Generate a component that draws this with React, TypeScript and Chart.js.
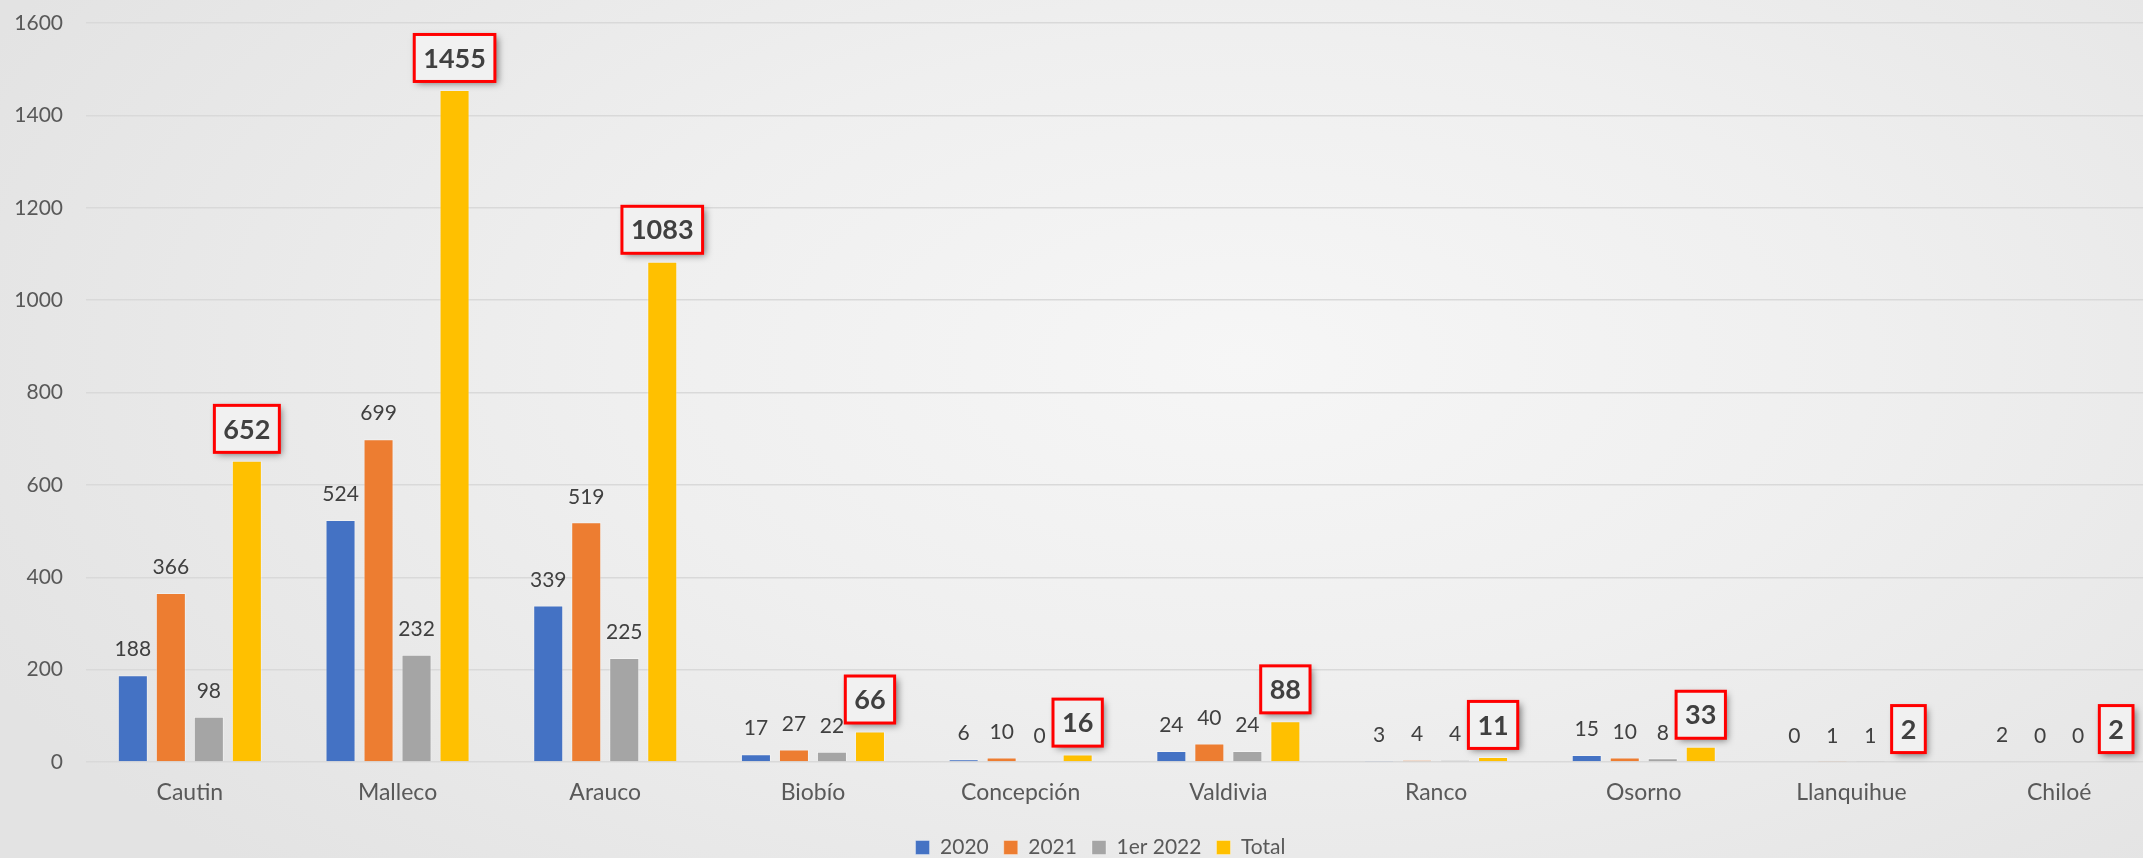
import React, { useEffect, useRef } from "react";
import { Chart, registerables } from "chart.js";

Chart.register(...registerables);

const categories = ["Cautin", "Malleco", "Arauco", "Biobío", "Concepción", "Valdivia", "Ranco", "Osorno", "Llanquihue", "Chiloé"];
const values2020 = [188, 524, 339, 17, 6, 24, 3, 15, 0, 2];
const values2021 = [366, 699, 519, 27, 10, 40, 4, 10, 1, 0];
const values2022 = [98, 232, 225, 22, 0, 24, 4, 8, 1, 0];
const valuesTotal = [652, 1455, 1083, 66, 16, 88, 11, 33, 2, 2];
const seriesNames = ["2020", "2021", "1er 2022", "Total"];
const seriesColors = ["#4472C4", "#ED7D31", "#A5A5A5", "#FFC000"];
const yMin = 0;
const yMax = 1600;
const yStep = 200;

const FONT = "Lato, 'Noto Sans', sans-serif";

const labelPlugin = {
  id: "valueLabels",
  afterDatasetsDraw(chart: any) {
    const ctx = chart.ctx;
    chart.data.datasets.forEach((ds: any, di: number) => {
      const meta = chart.getDatasetMeta(di);
      meta.data.forEach((bar: any, i: number) => {
        const v = ds.data[i];
        const x = bar.x;
        const y = bar.y;
        ctx.save();
        if (di === 3) {
          ctx.font = `bold 27px ${FONT}`;
          const tw = ctx.measureText(String(v)).width;
          const lw = 3;
          const w = tw + 15 + lw;
          const h = 47;
          const bx = x - w / 2;
          const by = y - 7 - lw / 2 - h;
          ctx.shadowColor = "rgba(0,0,0,0.5)";
          ctx.shadowBlur = 7;
          ctx.shadowOffsetX = 3;
          ctx.shadowOffsetY = 3;
          ctx.fillStyle = "#f1f1f1";
          ctx.fillRect(bx, by, w, h);
          ctx.shadowColor = "transparent";
          ctx.shadowBlur = 0;
          ctx.shadowOffsetX = 0;
          ctx.shadowOffsetY = 0;
          ctx.lineWidth = lw;
          ctx.strokeStyle = "#FF0000";
          ctx.strokeRect(bx, by, w, h);
          ctx.fillStyle = "#404040";
          ctx.textAlign = "center";
          ctx.textBaseline = "middle";
          ctx.fillText(String(v), x, by + h / 2 + 1);
        } else {
          ctx.font = `21px ${FONT}`;
          ctx.fillStyle = "#404040";
          ctx.textAlign = "center";
          ctx.textBaseline = "middle";
          ctx.fillText(String(v), x, y - 25.5);
        }
        ctx.restore();
      });
    });
  },
};

const legendShiftPlugin = {
  id: "legendShift",
  afterLayout(chart: any) {
    const l = chart.legend;
    if (l) {
      l.left += 11;
      l.right += 11;
    }
  },
};

export default function App() {
  const ref = useRef<HTMLCanvasElement | null>(null);

  useEffect(() => {
    if (!ref.current) return;
    const allSeries = [values2020, values2021, values2022, valuesTotal];
    const chart = new Chart(ref.current, {
      type: "bar",
      data: {
        labels: categories,
        datasets: allSeries.map((d, i) => ({
          label: seriesNames[i],
          data: d,
          backgroundColor: seriesColors[i],
          borderColor: "rgba(255,255,255,0.35)",
          borderWidth: 1,
          categoryPercentage: 0.732,
          barPercentage: 0.79,
        })),
      },
      options: {
        responsive: false,
        animation: false,
        devicePixelRatio: 1,
        layout: { padding: { top: 23, right: 37, left: 16, bottom: 0 } },
        plugins: {
          tooltip: { enabled: false },
          legend: {
            position: "bottom",
            labels: {
              boxWidth: 14,
              boxHeight: 14,
              color: "#595959",
              font: { size: 21, family: FONT },
              padding: 15,
            },
          },
        },
        scales: {
          x: {
            grid: { display: false, drawTicks: false },
            border: { display: false },
            ticks: { color: "#595959", font: { size: 23, family: FONT }, padding: 17 },
            afterFit: (scale: any) => {
              scale.height = 60;
            },
          },
          y: {
            min: yMin,
            max: yMax,
            border: { display: false },
            grid: { color: "#d9d9d9", lineWidth: 1.4, drawTicks: false },
            ticks: {
              stepSize: yStep,
              color: "#595959",
              font: { size: 21, family: FONT },
              padding: 23,
              callback: (v: any) => String(v),
            },
            afterFit: (scale: any) => {
              scale.width = 70;
              scale.paddingTop = 0;
              scale.paddingBottom = 0;
            },
          },
        },
      },
      plugins: [labelPlugin, legendShiftPlugin],
    });
    return () => chart.destroy();
  }, []);

  return (
    <div
      style={{
        position: "fixed",
        left: 0,
        top: 0,
        width: 2143,
        height: 858,
        overflow: "hidden",
        background: "radial-gradient(ellipse 65% 85% at 58% 42%, #f6f6f6 0%, #efefef 45%, #e3e3e3 100%)",
      }}
    >
      <canvas ref={ref} width={2200} height={868} style={{ display: "block" }} />
    </div>
  );
}
